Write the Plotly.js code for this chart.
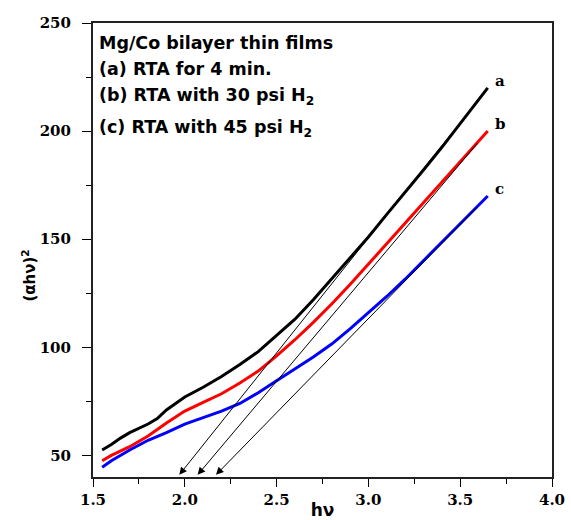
<!DOCTYPE html>
<html>
<head>
<meta charset="utf-8">
<script src="https://cdn.plot.ly/plotly-3.0.1.min.js"></script>
<style>
html,body{margin:0;padding:0;background:#fff;}
#chart{width:571px;height:520px;}
</style>
</head>
<body>
<div id="chart"></div>
<script>
// hv values (eV)
const hvA = [1.55,1.6,1.65,1.7,1.8,1.85,1.9,1.95,2.0,2.1,2.2,2.3,2.4,2.5,2.6,2.7,2.8,2.9,3.0,3.1,3.2,3.3,3.4,3.5,3.6,3.65];
const curveA = [52.5,55,58,60.5,64.5,67,71,74,77,81.5,86.5,92,98,105.5,113,122,131.5,141,151,161.5,171.5,182,192.5,203.5,214.5,220];
const hvB = [1.55,1.6,1.7,1.8,1.9,2.0,2.1,2.2,2.3,2.4,2.5,2.6,2.7,2.8,2.9,3.0,3.1,3.2,3.3,3.4,3.5,3.6,3.65];
const curveB = [47.5,50,54,59,65,70.5,74.5,78.5,83.5,89,96,103.5,111.5,120,129,138.5,148,157,166.5,176,185.5,195,200];
const hvC = [1.55,1.6,1.7,1.8,1.9,2.0,2.1,2.2,2.3,2.4,2.5,2.6,2.7,2.8,2.9,3.0,3.1,3.2,3.3,3.4,3.5,3.6,3.65];
const curveC = [44.5,47.5,52.5,57,60.5,64.5,67.5,70.5,74,79,84.5,90,95.5,101.5,108.5,116,123.5,131.5,140,148.5,157,165.5,170];
const curveLabels = ['a','b','c'];
const curveColors = ['#000000','#ff0000','#0000ff'];
// tangent (extrapolation) lines: foot near axis, top along the curve
const tanFootX = [1.97, 2.07, 2.17];
const tanFootY = [41, 41, 41];
const tanTopX = [3.6, 3.6, 3.6];
const tanTopY = [214.5, 195, 165.5];
const legendLines = [
  'Mg/Co bilayer thin films',
  '(a) RTA for 4 min.',
  '(b) RTA with 30 psi H<sub>2</sub>',
  '(c) RTA with 45 psi H<sub>2</sub>'
];
const xTickVals = [1.5,2.0,2.5,3.0,3.5,4.0];
const xTickText = ['1.5','2.0','2.5','3.0','3.5','4.0'];
const yTickVals = [50,100,150,200,250];
const yTickText = ['50','100','150','200','250'];

const xs = [hvA, hvB, hvC];
const ys = [curveA, curveB, curveC];
const traces = xs.map((x,i)=>({
  x: x, y: ys[i], mode:'lines', type:'scatter',
  line:{color:curveColors[i], width:3}, showlegend:false, hoverinfo:'skip'
}));

const serif = 'DejaVu Serif';
const sans = 'DejaVu Sans';
const annotations = [];
// tangent lines with arrowheads at their feet
for (let i=0;i<3;i++){
  annotations.push({
    x: tanFootX[i], y: tanFootY[i], xref:'x', yref:'y',
    ax: tanTopX[i], ay: tanTopY[i], axref:'x', ayref:'y',
    text:'', showarrow:true, arrowhead:2, arrowsize:1.5, arrowwidth:1, arrowcolor:'#000'
  });
}
// curve labels
for (let i=0;i<3;i++){
  const n = xs[i].length-1;
  annotations.push({
    x: xs[i][n], y: ys[i][n], xref:'x', yref:'y', text: curveLabels[i],
    showarrow:false, xanchor:'left', yanchor:'middle', xshift:5, yshift:7,
    font:{family:serif, size:15, weight:'bold', color:'#000'}
  });
}
// legend text block
const legY = [0.955, 0.898, 0.839, 0.768];
legendLines.forEach((t,i)=>{
  annotations.push({
    x: 0.009, y: legY[i], xref:'paper', yref:'paper', text:t, showarrow:false,
    xanchor:'left', yanchor:'middle',
    font:{family:sans, size:17.5, weight:'bold', color:'#000'}
  });
});
// y axis title
annotations.push({
  x: -0.14, y: 0.443, xref:'paper', yref:'paper', text:'(αhν)<sup>2</sup>',
  showarrow:false, textangle:-90, xanchor:'center', yanchor:'middle',
  font:{family:sans, size:15, weight:'bold', color:'#000'}
});

const layout = {
  width:571, height:520,
  margin:{l:93, r:19, t:23, b:43},
  paper_bgcolor:'#fff', plot_bgcolor:'#fff',
  xaxis:{
    range:[1.5,4.0], tickvals:xTickVals, ticktext:xTickText,
    ticks:'outside', ticklen:8, tickwidth:1, tickcolor:'#000',
    minor:{dtick:0.25, tick0:1.5, ticks:'outside', ticklen:5, tickcolor:'#000', showgrid:false},
    showgrid:false, zeroline:false, showline:true, linecolor:'#222', linewidth:2, mirror:true,
    tickfont:{family:serif, size:15, weight:'bold', color:'#000'},
    title:{text:'hν', standoff:11, font:{family:sans, size:17, weight:'bold', color:'#000'}}
  },
  yaxis:{
    range:[40,250], tickvals:yTickVals, ticktext:yTickText,
    ticks:'outside', ticklen:9, tickwidth:1, tickcolor:'#000', ticklabelstandoff:8,
    minor:{dtick:25, tick0:50, ticks:'outside', ticklen:5, tickcolor:'#000', showgrid:false},
    showgrid:false, zeroline:false, showline:true, linecolor:'#222', linewidth:2, mirror:true,
    tickfont:{family:serif, size:15, weight:'bold', color:'#000'}
  },
  annotations: annotations
};
Plotly.newPlot('chart', traces, layout, {staticPlot:true, displayModeBar:false});
</script>
</body>
</html>
